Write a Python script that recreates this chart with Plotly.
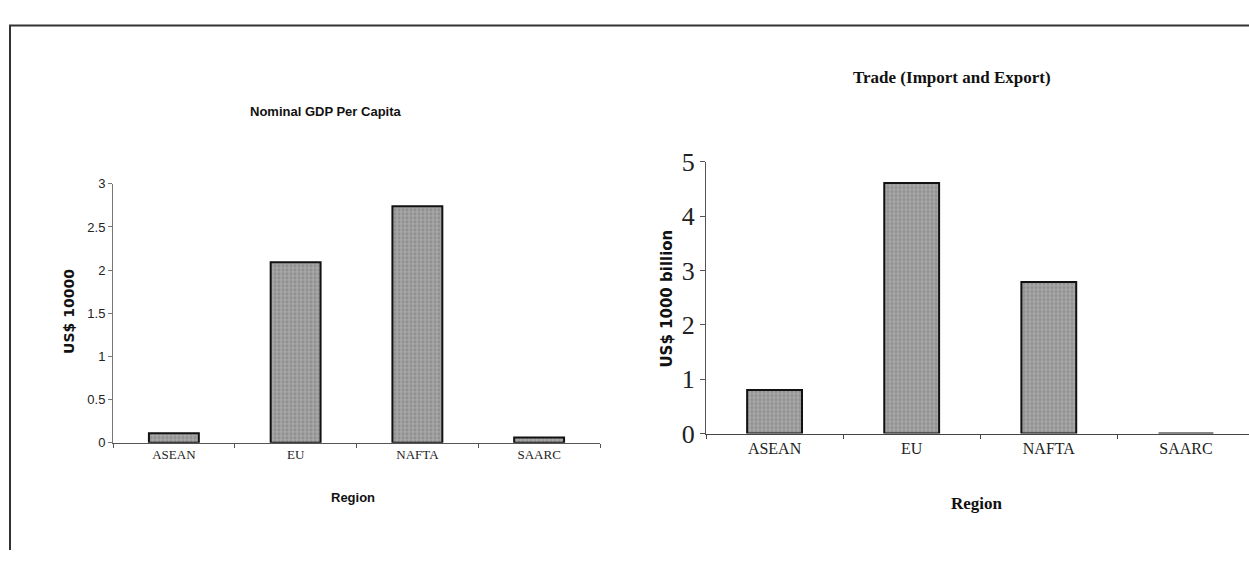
import plotly.graph_objects as go

W, H = 1249, 565

regions = ["ASEAN", "EU", "NAFTA", "SAARC"]
gdp_per_capita = [0.11, 2.09, 2.74, 0.06]      # US$ 10000
trade = [0.80, 4.61, 2.79, 0.0]                # US$ 1000 billion
left_yticks = [0, 0.5, 1, 1.5, 2, 2.5, 3]
left_yticktext = ["0", "0.5", "1", "1.5", "2", "2.5", "3"]
right_yticks = [0, 1, 2, 3, 4, 5]

def px(x):
    return x / W

def py(y):
    return 1 - y / H

bar_style = dict(
    color="#9c9c9c",
    line=dict(color="#111111", width=2),
    pattern=dict(shape=".", fgcolor="#777777", bgcolor="#a6a6a6", size=4, solidity=0.4),
)

fig = go.Figure()
fig.add_trace(go.Bar(x=regions, y=gdp_per_capita, xaxis="x", yaxis="y",
                     width=0.41, marker=bar_style, showlegend=False))
fig.add_trace(go.Bar(x=regions, y=trade, xaxis="x2", yaxis="y2",
                     width=0.40, marker=bar_style, showlegend=False))

serif = "Liberation Serif"
sans = "Liberation Sans"

fig.update_layout(
    width=W, height=H,
    margin=dict(l=0, r=0, t=0, b=0),
    paper_bgcolor="white", plot_bgcolor="white",
    xaxis=dict(domain=[px(113), px(600)], anchor="y", type="category",
               range=[-0.5, 3.5], showline=True, linecolor="#555", linewidth=1,
               ticks="outside", tickson="boundaries", ticklen=4, tickcolor="#555",
               showgrid=False, zeroline=False,
               tickfont=dict(family=serif, size=13, color="#222")),
    yaxis=dict(domain=[py(452), py(179)], anchor="x", range=[0, 3],
               tickvals=left_yticks, ticktext=left_yticktext,
               showline=True, linecolor="#777", linewidth=1,
               ticks="outside", ticklen=4, tickcolor="#777",
               showgrid=False, zeroline=False,
               tickfont=dict(family=sans, size=13, color="#222")),
    xaxis2=dict(domain=[px(706), 1.0], anchor="y2", type="category",
                range=[-0.5, 3.46], showline=True, linecolor="#444", linewidth=1,
                ticks="outside", tickson="boundaries", ticklen=4, tickcolor="#444",
                showgrid=False, zeroline=False,
                tickfont=dict(family=serif, size=16, color="#222")),
    yaxis2=dict(domain=[py(442.3), py(155.7)], anchor="x2", range=[0, 5],
                tickvals=right_yticks,
                showline=True, linecolor="#555", linewidth=1,
                ticks="outside", ticklen=5, tickcolor="#555",
                showgrid=False, zeroline=False,
                tickfont=dict(family=serif, size=26, color="#222")),
    bargap=0.5,
)

annotations = [
    dict(text="<b>Nominal GDP Per Capita</b>", x=px(326), y=py(103),
         font=dict(family=sans, size=13, color="#111")),
    dict(text="<b>Trade (Import and Export)</b>", x=px(952), y=py(67),
         font=dict(family=serif, size=17, color="#111")),
    dict(text="<b>Region</b>", x=px(353), y=py(510),
         font=dict(family=sans, size=13, color="#111")),
    dict(text="<b>Region</b>", x=px(977), y=py(516),
         font=dict(family=serif, size=17, color="#111")),
    dict(text="<b>US$ 10000</b>", x=px(69), y=py(314), textangle=-90,
         font=dict(family="DejaVu Sans", size=14, color="#111")),
    dict(text="<b>US$ 1000 billion</b>", x=px(667), y=py(300), textangle=-90,
         font=dict(family="DejaVu Sans", size=15, color="#111")),
]
for a in annotations:
    a.update(xref="paper", yref="paper", showarrow=False, xanchor="center", yanchor="middle")
fig.update_layout(annotations=annotations)

fig.update_layout(shapes=[
    dict(type="line", xref="paper", yref="paper", x0=px(9), x1=1.0, y0=py(12), y1=py(12),
         line=dict(color="#333", width=2)),
    dict(type="line", xref="paper", yref="paper", x0=px(10), x1=px(10), y0=py(12), y1=0,
         line=dict(color="#333", width=2)),
])

fig.write_html("out.html")
